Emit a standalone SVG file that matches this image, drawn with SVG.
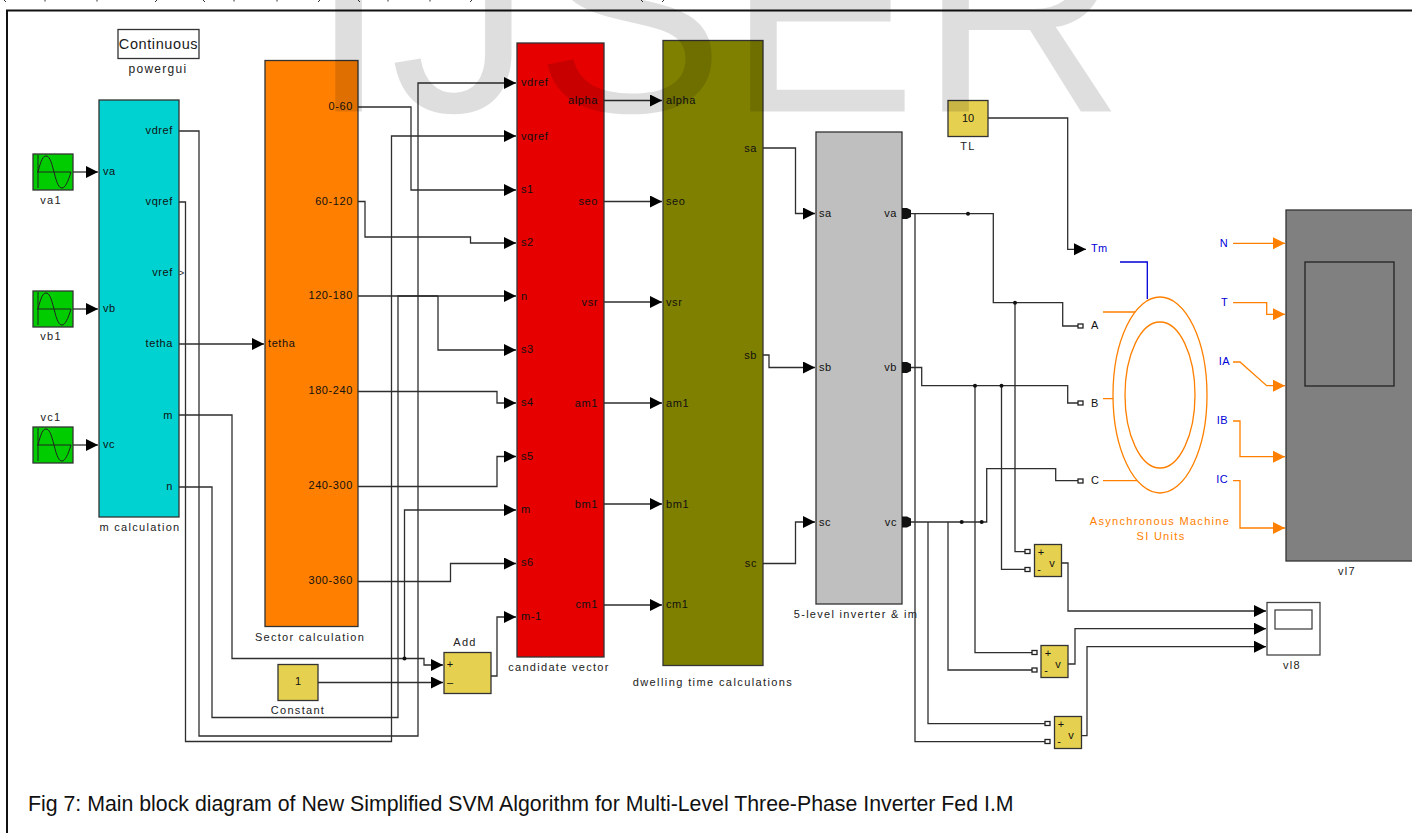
<svg xmlns="http://www.w3.org/2000/svg" width="1412" height="833" viewBox="0 0 1412 833">
<style>
text{font-family:"Liberation Sans",Arial,sans-serif;fill:#1a1a1a}
.b{stroke:#333;stroke-width:1.3}
.p{font-size:11px;letter-spacing:.6px;fill:#111}
.r{text-anchor:end}
.n{font-size:11px;letter-spacing:1.3px;text-anchor:middle;fill:#222}
.w{stroke:#2e2e2e;stroke-width:1.3;fill:none}
.a{marker-end:url(#ar)}
.o{stroke:#ff8000;stroke-width:1.3;fill:none}
.oa{marker-end:url(#ao)}
.bl{fill:#0000d8;font-size:11px;letter-spacing:.4px}
.or{fill:#ff8000;font-size:11px;letter-spacing:1.3px;text-anchor:middle}
.y{fill:#e6d050}
.s{fill:#00cc00}
.d{fill:#111}
.prt{fill:#fff;stroke:#222;stroke-width:1.3}
.sm{font-size:11px;fill:#111}
</style>
<defs>
<marker id="ar" markerUnits="userSpaceOnUse" markerWidth="13" markerHeight="13" refX="12" refY="6" orient="auto"><path d="M0 0L12 6L0 12Z" fill="#000"/></marker>
<marker id="ao" markerUnits="userSpaceOnUse" markerWidth="13" markerHeight="13" refX="12" refY="6" orient="auto"><path d="M0 0L12 6L0 12Z" fill="#ff8000"/></marker>
<clipPath id="cg"><rect x="118" y="30" width="81" height="28"/></clipPath>
<g id="sine"><rect class="b s" x="33" y="0" width="40" height="36"/><path d="M38 1V34M37 18H71" stroke="#222" fill="none"/><path d="M38 18C41 6 43 2 46 2C49 2 51 6 54 18C57 30 59 34 62 34C65 34 68 28 71 18" stroke="#222" fill="none"/></g>
</defs>
<rect width="1412" height="833" fill="#fff"/>
<path d="M1412 10.5H7V833" fill="none" stroke="#111" stroke-width="2"/>
<g id="powergui"><rect x="118" y="29.5" width="81" height="29" fill="#fff" stroke="#333" stroke-width="1.3"/><text x="158.500" y="49" text-anchor="middle" clip-path="url(#cg)" style="font-size:14.500px;letter-spacing:.6px">Continuous</text><text class="n" x="158" y="73" style="font-size:12px">powergui</text></g>
<g id="va1"><use href="#sine" y="154"/><text class="n" x="51" y="204">va1</text></g>
<g id="vb1"><use href="#sine" y="291"/><text class="n" x="51" y="340">vb1</text></g>
<g id="vc1"><use href="#sine" y="427"/><text class="n" x="51" y="421">vc1</text></g>
<g id="m-calculation"><rect class="b" x="99" y="100" width="80" height="417" fill="#00d2d2"/>
<text class="p" x="103" y="175">va</text><text class="p" x="103" y="312">vb</text><text class="p" x="103" y="448">vc</text>
<text class="p r" x="173" y="134">vdref</text><text class="p r" x="173" y="205">vqref</text><text class="p r" x="173" y="276">vref</text><text class="p" x="179" y="276" style="font-size:9px">&gt;</text><text class="p r" x="173" y="347">tetha</text><text class="p r" x="173" y="419">m</text><text class="p r" x="173" y="490">n</text>
<text class="n" x="140" y="531">m calculation</text></g>
<g id="sector-calculation"><rect class="b" x="265" y="60.5" width="93" height="566" fill="#ff8000"/>
<text class="p" x="268" y="347">tetha</text>
<text class="p r" x="353" y="110">0-60</text><text class="p r" x="353" y="205">60-120</text><text class="p r" x="353" y="299">120-180</text><text class="p r" x="353" y="394">180-240</text><text class="p r" x="353" y="489">240-300</text><text class="p r" x="353" y="584">300-360</text>
<text class="n" x="310" y="641">Sector calculation</text></g>
<g id="candidate-vector"><rect class="b" x="517" y="43" width="87" height="614" fill="#e60000"/>
<text class="p" x="521" y="86">vdref</text><text class="p" x="521" y="140">vqref</text><text class="p" x="521" y="193">s1</text><text class="p" x="521" y="246">s2</text><text class="p" x="521" y="300">n</text><text class="p" x="521" y="353">s3</text><text class="p" x="521" y="406">s4</text><text class="p" x="521" y="460">s5</text><text class="p" x="521" y="513">m</text><text class="p" x="521" y="566">s6</text><text class="p" x="521" y="620">m-1</text>
<text class="p r" x="598" y="104">alpha</text><text class="p r" x="598" y="205">seo</text><text class="p r" x="598" y="306">vsr</text><text class="p r" x="598" y="407">am1</text><text class="p r" x="598" y="508">bm1</text><text class="p r" x="598" y="608">cm1</text>
<text class="n" x="559" y="671">candidate vector</text></g>
<g id="dwelling-time"><rect class="b" x="663" y="40.5" width="100" height="625" fill="#808000"/>
<text class="p" x="666" y="104">alpha</text><text class="p" x="666" y="205">seo</text><text class="p" x="666" y="306">vsr</text><text class="p" x="666" y="407">am1</text><text class="p" x="666" y="508">bm1</text><text class="p" x="666" y="608">cm1</text>
<text class="p r" x="757" y="152">sa</text><text class="p r" x="757" y="359">sb</text><text class="p r" x="757" y="567">sc</text>
<text class="n" x="713" y="686" style="letter-spacing:1.4px">dwelling time calculations</text></g>
<g id="inverter"><rect class="b" x="816" y="132" width="86" height="472" fill="#bfbfbf"/>
<text class="p" x="819" y="217">sa</text><text class="p" x="819" y="371">sb</text><text class="p" x="819" y="526">sc</text>
<text class="p r" x="897" y="217">va</text><text class="p r" x="897" y="371">vb</text><text class="p r" x="897" y="526">vc</text>
<text class="n" x="856" y="618">5-level inverter &amp; im</text></g>
<g id="constant"><rect class="b y" x="278" y="664.5" width="40" height="36"/><text class="sm" x="298" y="685" text-anchor="middle">1</text><text class="n" x="298" y="714">Constant</text></g>
<g id="add"><rect class="b y" x="444" y="652.5" width="47" height="41"/><text class="sm" x="450" y="668" text-anchor="middle">+</text><text class="sm" x="450" y="686" text-anchor="middle">–</text><text class="n" x="465" y="646">Add</text></g>
<g id="tl"><rect class="b y" x="948" y="100.5" width="40" height="36"/><text class="sm" x="968" y="122" text-anchor="middle">10</text><text class="n" x="968" y="150">TL</text></g>
<g id="machine">
<ellipse class="o" cx="1160" cy="395" rx="47" ry="98"/><ellipse class="o" cx="1160" cy="395" rx="35" ry="73"/>
<path d="M1120 262H1147.3V299" fill="none" stroke="#0000d8" stroke-width="1.3"/>
<path class="o" d="M1103 312H1135M1103 398.7H1113M1103 480.7H1137"/>
<text class="bl" x="1091" y="252">Tm</text>
<text x="1091" y="329" class="sm">A</text><text x="1091" y="407" class="sm">B</text><text x="1091" y="484" class="sm">C</text>
<text class="or" x="1160" y="525">Asynchronous Machine</text><text class="or" x="1161" y="540">SI Units</text></g>
<g id="vl7"><rect class="b" x="1286" y="210" width="130" height="351" fill="#808080"/><rect x="1305" y="262" width="89" height="124" fill="none" stroke="#222" stroke-width="1.3"/>
<text class="bl r" x="1228" y="247">N</text><text class="bl r" x="1228" y="306">T</text><text class="bl r" x="1230" y="365">IA</text><text class="bl r" x="1228" y="424">IB</text><text class="bl r" x="1228" y="483">IC</text>
<text class="n" x="1347" y="575">vl7</text></g>
<g id="v1"><rect class="b y" x="1034.5" y="544.5" width="27" height="32"/><text class="sm" x="1041" y="556" text-anchor="middle">+</text><text class="sm" x="1039" y="573" text-anchor="middle">-</text><text class="sm" x="1052" y="567" text-anchor="middle">v</text></g>
<g id="v2"><rect class="b y" x="1041" y="645.5" width="27" height="32"/><text class="sm" x="1048" y="657" text-anchor="middle">+</text><text class="sm" x="1046" y="674" text-anchor="middle">-</text><text class="sm" x="1058" y="668" text-anchor="middle">v</text></g>
<g id="v3"><rect class="b y" x="1054.5" y="716.5" width="27" height="32"/><text class="sm" x="1061" y="728" text-anchor="middle">+</text><text class="sm" x="1059" y="745" text-anchor="middle">-</text><text class="sm" x="1071" y="739" text-anchor="middle">v</text></g>
<g id="vl8"><rect x="1267" y="602.5" width="53" height="52.5" fill="#fff" stroke="#444" stroke-width="1.3"/><rect x="1275" y="610" width="37" height="19" fill="#fff" stroke="#444" stroke-width="1.3"/><text class="n" x="1292" y="669">vl8</text></g>
<g id="connectors">
<path class="w a" d="M73 172H98"/><path class="w a" d="M73 309H98"/><path class="w a" d="M73 445H98"/>
<path class="w a" d="M179 344H264"/>
<path class="w a" d="M179 131H199V736H418V83H516"/>
<path class="w a" d="M179 202H185.500V741.500H391.500V136H516"/>
<path class="w" d="M179 415H232V658.500H404.500"/>
<path class="w a" d="M404.500 658.500H424V665H443"/>
<path class="w a" d="M404.500 658.500V510H516"/>
<path class="w a" d="M179 487H212V717.500H398V296H516"/>
<path class="w a" d="M318 682.500H443"/>
<path class="w a" d="M491 676H497V617H516"/>
<path class="w a" d="M358 107H411V190H516"/>
<path class="w a" d="M358 201.500H365V237H470.500V243H516"/>
<path class="w" d="M358 296H438"/>
<path class="w a" d="M438 296V350H516"/>
<path class="w a" d="M358 391.500H497V403H516"/>
<path class="w a" d="M358 486.500H497V456.500H516"/>
<path class="w a" d="M358 581.500H450.500V563.500H516"/>
<path class="w a" d="M604 100.500H662"/><path class="w a" d="M604 201.500H662"/><path class="w a" d="M604 302H662"/><path class="w a" d="M604 403H662"/><path class="w a" d="M604 504H662"/><path class="w a" d="M604 605H662"/>
<path class="w a" d="M763 148H795.500V213.500H815"/>
<path class="w a" d="M763 355H769V367.500H815"/>
<path class="w a" d="M763 563.500H795.500V522H815"/>
<path class="w" d="M902 213.700H993.300V302.700H1062.700V326H1078"/>
<path class="w" d="M902 367.500H921.700V385.700H1067.700V403H1078"/>
<path class="w" d="M902 522H986.700V468.700H1055.700V480.700H1078"/>
<path class="w" d="M915 213.700V741.700H1045"/>
<path class="w" d="M928 522V723.700H1045"/>
<path class="w" d="M948 522V670H1032"/>
<path class="w" d="M975 385.700V652.700H1032"/>
<path class="w" d="M1015 302.700V551.700H1025"/>
<path class="w" d="M1001.500 385.700V569.300H1025"/>
<path class="w a" d="M988 118H1067.700V249.300H1086"/>
<path class="w a" d="M1061.500 563H1068V611H1266"/>
<path class="w a" d="M1068 664H1075V628.700H1266"/>
<path class="w a" d="M1081.500 735.700H1087V646.700H1266"/>
<path class="o oa" d="M1233 243.300H1285"/>
<path class="o oa" d="M1233 302.700H1266.700V314.300H1285"/>
<path class="o oa" d="M1233 362H1240L1266.700 385.700H1285"/>
<path class="o oa" d="M1233 421H1240V456.700H1285"/>
<path class="o oa" d="M1233 480.700H1240V528H1285"/>
<g class="d"><circle cx="404.500" cy="658.500" r="2"/><circle cx="968" cy="213.700" r="2"/><circle cx="1015" cy="302.700" r="2"/><circle cx="975" cy="385.700" r="2"/><circle cx="1001.500" cy="385.700" r="2"/><circle cx="961.700" cy="522" r="2"/><circle cx="981.700" cy="522" r="2"/>
<path d="M902 208H907L911 210V217L907 219H902Z"/><path d="M902 362H907L911 364V371L907 373H902Z"/><path d="M902 516.500H907L911 518.500V525.500L907 527.500H902Z"/></g>
<g class="prt"><rect x="1078" y="324" width="5" height="4"/><rect x="1078" y="401" width="5" height="4"/><rect x="1078" y="479" width="5" height="4"/><rect x="1025" y="549.500" width="5" height="4"/><rect x="1025" y="567.500" width="5" height="4"/><rect x="1032" y="650.500" width="5" height="4"/><rect x="1032" y="668" width="5" height="4"/><rect x="1045" y="721.500" width="5" height="4"/><rect x="1045" y="739.500" width="5" height="4"/></g>
</g>
<text x="28" y="811" style="font-size:21.300px;fill:#111">Fig 7: Main block diagram of New Simplified SVM Algorithm for Multi-Level Three-Phase Inverter Fed I.M</text>
<g id="top-fragments" stroke="#333" stroke-width="1" fill="none"><path d="M4 0L6 2M157 0L155 2M203 0L205 2M320 0L318 2M358 0L360 2M472 0L470 2M641 0L643 2M664 0L662 2M45 0V1.500M97 0V1.500M234 0V1.500M277 0V1.500M388 0V1.500M430 0V1.500"/></g>
<text x="309" y="111.500" style="font-size:285px;fill:#000;fill-opacity:.13;letter-spacing:2px">IJSER</text>
</svg>
